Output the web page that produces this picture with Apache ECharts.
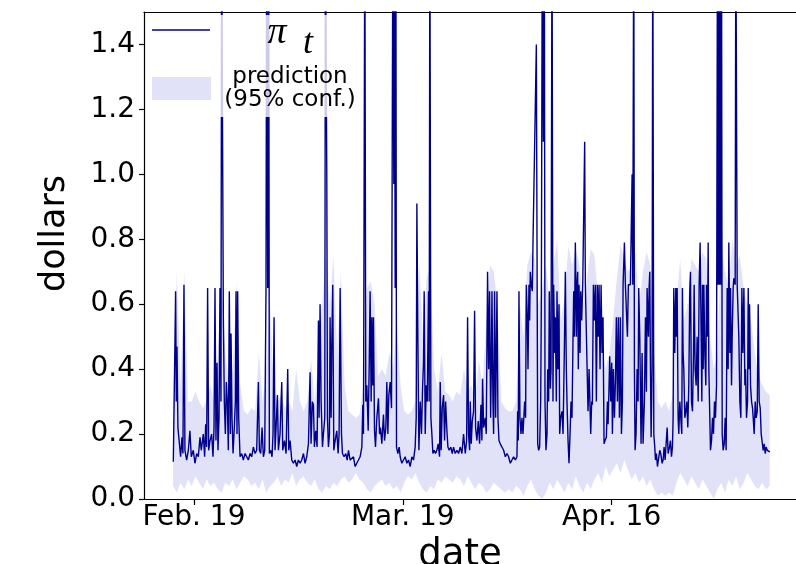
<!DOCTYPE html>
<html><head><meta charset="utf-8">
<script src="https://cdn.jsdelivr.net/npm/echarts@6/dist/echarts.min.js"></script>
<style>html,body{margin:0;padding:0;background:#fff;overflow:hidden}#c{width:796px;height:564px}</style>
</head><body><div id="c"></div>
<script>
// x values are days relative to Feb. 19
const tickLabels = ['Feb. 19', 'Mar. 19', 'Apr. 16'];
const tickDays = [0, 28, 56];
const yTicks = [0, 0.2, 0.4, 0.6, 0.8, 1.0, 1.2, 1.4];

// observed price pi_t : [day, dollars]
const piSeg1 = [[-2.77,0.115],[-2.60,0.12],[-2.46,0.64],[-2.37,0.30],[-2.28,0.47],[-2.15,0.22],[-1.97,0.22],[-1.79,0.13],[-1.61,0.19],[-1.48,0.14],[-1.34,0.66],[-1.21,0.15],[-0.98,0.12],[-0.76,0.15],[-0.54,0.21],[-0.36,0.13],[-0.09,0.15],[0.13,0.11],[0.36,0.14],[0.58,0.13],[0.81,0.19],[0.98,0.15],[1.25,0.20],[1.43,0.13],[1.57,0.23],[1.70,0.16],[1.83,0.65],[1.97,0.15],[2.15,0.18],[2.37,0.20],[2.55,0.13],[2.69,0.22],[2.82,0.65],[2.95,0.18],[3.09,0.42],[3.22,0.15],[3.36,0.25],[3.49,0.65],[3.62,0.30],[3.71,1.8],[3.94,0.56],[4.07,0.30],[4.21,0.20],[4.34,0.36],[4.47,0.30],[4.61,0.15],[4.74,0.64],[4.88,0.20],[4.97,0.51],[5.10,0.25],[5.24,0.14],[5.41,0.22],[5.55,0.30],[5.64,0.64],[5.77,0.20],[5.86,0.64],[6.00,0.25],[6.18,0.13],[6.40,0.14],[6.62,0.12],[6.85,0.14],[7.07,0.13],[7.29,0.12],[7.52,0.14],[7.74,0.13],[7.96,0.16],[8.19,0.14],[8.41,0.15],[8.64,0.36],[8.77,0.15],[8.95,0.14],[9.13,0.22],[9.31,0.13],[9.49,0.15],[9.66,0.65],[9.75,1.8],[9.89,0.65],[10.02,1.8],[10.11,0.14],[10.29,0.15],[10.47,0.13],[10.60,0.20],[10.74,0.56],[10.87,0.15],[11.01,0.22],[11.19,0.32],[11.32,0.15],[11.54,0.20],[11.77,0.36],[11.90,0.15],[12.13,0.18],[12.35,0.14],[12.57,0.40],[12.71,0.15],[12.89,0.18],[13.11,0.12],[13.33,0.11],[13.56,0.12],[13.78,0.10],[14.00,0.12],[14.23,0.11]];
const piSeg2 = [[14.45,0.12],[14.68,0.14],[14.90,0.11],[15.12,0.13],[15.35,0.17],[15.57,0.39],[15.70,0.17],[15.88,0.30],[16.02,0.29],[16.15,0.16],[16.33,0.21],[16.51,0.16],[16.69,0.55],[16.78,0.25],[16.91,0.60],[17.05,0.30],[17.23,0.16],[17.36,0.20],[17.54,0.25],[17.63,1.8],[17.81,1.0],[17.90,0.25],[18.03,0.16],[18.17,0.20],[18.25,0.56],[18.39,0.25],[18.48,0.48],[18.61,0.66],[18.75,0.15],[18.93,0.18],[19.15,0.21],[19.33,0.14],[19.46,0.20],[19.60,0.65],[19.78,0.20],[19.91,0.14],[20.13,0.13],[20.36,0.14],[20.54,0.12],[20.72,0.15],[20.94,0.12],[21.16,0.12],[21.39,0.13],[21.61,0.10],[21.83,0.11],[22.06,0.12],[22.28,0.13],[22.51,0.16],[22.64,0.29],[22.73,0.20],[22.91,1.8],[23.04,0.30],[23.18,0.35],[23.36,0.21],[23.49,0.40],[23.62,0.64],[23.76,0.30],[23.85,0.56],[23.98,0.35],[24.07,0.56],[24.21,0.21],[24.34,0.16],[24.52,0.25],[24.74,0.31],[24.88,0.20],[25.01,0.22],[25.19,0.17],[25.41,0.26],[25.55,0.18],[25.73,0.22],[25.86,0.36],[26.00,0.20],[26.13,0.32],[26.31,0.36],[26.49,0.28],[26.67,1.8],[26.80,0.97],[26.89,1.8],[26.98,0.65],[27.07,1.8],[27.16,0.16],[27.34,0.14],[27.52,0.16],[27.65,0.13],[27.87,0.11],[28.10,0.12],[28.32,0.13],[28.55,0.11],[28.77,0.12],[28.99,0.10],[29.22,0.13],[29.44,0.12],[29.66,0.16],[29.80,0.25],[29.89,0.91],[30.02,0.50],[30.16,0.15],[30.34,0.30],[30.51,0.20],[30.65,0.34],[30.78,0.42],[30.87,0.64],[31.01,0.20],[31.14,0.35],[31.28,0.30],[31.45,0.64],[31.54,0.30],[31.63,1.8],[31.77,0.25],[31.90,0.20],[32.04,0.14],[32.21,0.15],[32.39,0.14],[32.57,0.15],[32.75,0.17],[32.93,0.13],[33.02,0.36],[33.15,0.15],[33.29,0.28],[33.47,0.32],[33.60,0.18],[33.74,0.30],[33.92,0.21],[34.05,0.16],[34.23,0.15],[34.45,0.16],[34.63,0.14],[34.81,0.16],[35.03,0.14],[35.26,0.15],[35.48,0.14]];
const piSeg3 = [[35.71,0.16],[35.93,0.14],[36.15,0.20],[36.38,0.14],[36.56,0.18],[36.69,0.56],[36.82,0.20],[36.96,0.15],[37.05,0.30],[37.18,0.17],[37.32,0.24],[37.49,0.27],[37.63,0.58],[37.76,0.22],[37.94,0.18],[38.12,0.24],[38.30,0.17],[38.48,0.29],[38.61,0.18],[38.70,0.37],[38.84,0.22],[39.06,0.25],[39.19,0.20],[39.37,0.70],[39.51,0.40],[39.64,0.64],[39.78,0.25],[39.87,0.40],[39.96,0.64],[40.09,0.30],[40.18,0.20],[40.31,0.64],[40.45,0.25],[40.63,0.64],[40.76,0.25],[40.90,0.18],[41.07,0.17],[41.30,0.16],[41.52,0.15],[41.75,0.13],[41.97,0.14],[42.19,0.13],[42.42,0.11],[42.64,0.12],[42.86,0.13],[43.09,0.12],[43.31,0.13],[43.40,0.27],[43.49,0.18],[43.58,0.64],[43.71,0.25],[43.85,0.20],[43.98,0.25],[44.12,0.20],[44.34,0.30],[44.47,0.25],[44.56,0.66],[44.70,0.56],[44.79,0.40],[44.92,0.66],[45.01,0.55],[45.10,0.70],[45.23,0.66],[45.37,0.64],[45.46,0.79],[45.64,0.79],[45.73,0.79],[45.91,1.40],[46.00,1.40],[46.09,0.17],[46.22,0.15],[46.35,0.16],[46.49,0.30],[46.58,0.60],[46.71,1.8],[46.85,1.1],[46.98,1.8],[47.07,0.30],[47.20,0.15],[47.34,0.20],[47.43,0.40],[47.56,0.30],[47.65,0.64],[47.79,0.34],[47.88,0.40],[48.01,1.8],[48.14,0.30],[48.23,0.66],[48.37,0.45],[48.46,0.56],[48.59,0.30],[48.68,0.64],[48.81,0.40],[48.95,0.60],[49.04,0.20],[49.17,0.25],[49.35,0.27],[49.49,0.20],[49.66,0.45],[49.80,0.70],[49.93,0.40],[50.02,0.30],[50.16,0.18],[50.29,0.11],[50.43,0.20],[50.56,0.30],[50.69,0.25],[50.83,0.50],[50.92,0.64],[51.01,0.50],[51.14,0.79],[51.28,0.50],[51.36,0.66],[51.45,0.70],[51.54,0.40],[51.63,0.66],[51.77,0.45],[51.86,0.64],[51.99,0.55],[52.13,0.66],[52.30,0.66],[52.39,1.10],[52.48,0.66],[52.62,0.66],[52.71,0.66],[52.84,0.27],[52.98,0.40],[53.06,0.40],[53.20,0.20],[53.33,0.30],[53.42,0.29],[53.56,0.66],[53.69,0.55],[53.83,0.66],[53.96,0.30],[54.09,0.66],[54.23,0.50],[54.32,0.66],[54.45,0.40],[54.59,0.66],[54.72,0.45],[54.85,0.56],[54.99,0.17],[55.12,0.18],[55.30,0.19],[55.44,0.30],[55.53,0.23],[55.66,0.35],[55.75,0.44],[55.88,0.30],[56.02,0.42],[56.11,0.20],[56.24,0.40],[56.38,0.25],[56.51,0.36],[56.64,0.56],[56.78,0.30],[56.91,0.56],[57.05,0.25]];
const piSeg4 = [[57.18,0.56],[57.32,0.20],[57.45,0.30],[57.54,0.66],[57.72,0.79],[57.85,0.66],[57.99,0.66],[58.12,0.50],[58.25,0.66],[58.39,0.66],[58.52,0.66],[58.66,0.66],[58.75,1.00],[58.84,0.66],[58.97,1.8],[59.06,0.40],[59.15,0.15],[59.28,0.20],[59.42,0.40],[59.55,0.30],[59.64,0.65],[59.78,0.50],[59.95,0.17],[60.09,0.45],[60.22,0.17],[60.40,0.30],[60.54,0.56],[60.67,0.33],[60.76,0.65],[60.94,0.50],[61.03,0.65],[61.12,0.70],[61.21,0.40],[61.30,0.19],[61.43,0.40],[61.52,1.8],[61.66,0.20],[61.79,0.16],[61.88,0.12],[62.01,0.14],[62.15,0.10],[62.33,0.10],[62.46,0.15],[62.59,0.14],[62.77,0.11],[62.91,0.12],[63.04,0.16],[63.18,0.12],[63.31,0.17],[63.45,0.22],[63.58,0.14],[63.76,0.16],[63.89,0.18],[64.03,0.13],[64.16,0.16],[64.25,0.25],[64.34,0.65],[64.47,0.45],[64.61,0.65],[64.70,0.50],[64.79,0.65],[64.92,0.25],[65.01,0.20],[65.15,0.30],[65.28,0.25],[65.41,0.20],[65.50,0.65],[65.59,0.45],[65.68,0.40],[65.82,0.25],[65.95,0.27],[66.08,0.30],[66.22,0.22],[66.35,0.35],[66.49,0.65],[66.58,0.70],[66.71,0.30],[66.85,0.27],[66.98,0.45],[67.07,0.66],[67.20,0.40],[67.34,0.35],[67.47,0.50],[67.61,0.30],[67.74,0.66],[67.87,0.79],[68.01,0.50],[68.10,0.30],[68.19,0.66],[68.28,0.40],[68.37,0.66],[68.50,0.45],[68.64,0.35],[68.72,0.66],[68.86,0.50],[68.95,0.79],[69.04,0.40],[69.17,0.25],[69.26,0.15],[69.40,0.18],[69.53,0.25],[69.66,0.20],[69.80,0.30],[69.93,0.25],[70.07,0.35],[70.20,1.8],[70.29,0.66],[70.38,1.8],[70.47,0.66],[70.56,1.8],[70.65,0.66],[70.74,1.8],[70.83,0.20],[70.96,0.15],[71.10,0.17],[71.23,0.25],[71.36,0.15],[71.50,0.65],[71.63,0.40],[71.72,0.79],[71.86,0.45],[71.95,0.65],[72.08,0.35],[72.17,0.50],[72.30,0.65],[72.39,0.68],[72.48,0.68],[72.57,0.66],[72.66,1.8],[72.75,1.8],[72.84,0.66],[72.93,0.66],[73.06,0.50],[73.20,0.30],[73.33,0.25],[73.47,0.65],[73.60,0.45],[73.74,0.65],[73.87,0.35],[73.96,0.40],[74.09,0.25],[74.23,0.30],[74.32,0.65],[74.41,0.40],[74.50,0.60],[74.63,0.35],[74.77,0.30],[74.90,0.28],[74.99,0.25],[75.12,0.20],[75.26,0.30],[75.39,0.25],[75.53,0.27],[75.66,0.60],[75.79,0.30],[75.93,0.28],[76.06,0.20],[76.20,0.20],[76.33,0.15],[76.47,0.17],[76.60,0.14],[76.73,0.16],[76.87,0.15],[77.05,0.15],[77.23,0.145]];

// 95% prediction band, sampled every half day from day -2.8
const bandStart = -2.8;
const bandStep = 0.5;
const bandUpper = [0.28,0.70,0.35,0.70,0.30,0.30,0.33,0.30,0.28,0.30,0.35,0.30,0.45,0.67,0.45,0.35,0.40,0.67,0.35,0.27,0.26,0.28,0.27,0.45,0.30,0.40,0.60,0.35,0.30,0.32,0.28,0.30,0.27,0.40,0.30,
 0.27,0.30,0.43,0.30,0.45,0.60,0.75,0.60,0.75,0.45,0.70,0.35,0.27,0.26,0.25,0.26,0.35,0.65,0.67,0.60,0.38,0.40,0.38,0.45,0.40,0.55,0.35,0.27,0.26,0.27,0.30,0.73,0.50,0.68,0.72,0.40,0.33,0.45,0.33,0.32,0.30,0.33,
 0.32,0.40,0.33,0.35,0.30,0.43,0.35,0.55,0.72,0.70,0.60,0.30,0.28,0.27,0.27,0.30,0.60,0.50,0.72,0.76,0.74,0.60,0.65,0.72,0.60,0.72,0.80,0.55,0.62,0.78,0.72,0.77,0.72,0.60,0.68,0.77,0.75,0.62,0.48,0.40,0.45,0.55,0.68,0.78,
 0.74,0.70,0.72,0.76,0.60,0.70,0.76,0.72,0.45,0.30,0.28,0.30,0.27,0.32,0.60,0.74,0.55,0.60,0.74,0.72,0.70,0.76,0.74,0.50,0.40,0.45,0.79,0.70,0.65,0.80,0.72,0.75,0.65,0.60,0.55,0.45,0.38,0.35,0.33,0.32];
const bandLower = [0.04,0.02,0.05,0.03,0.06,0.04,0.07,0.05,0.03,0.06,0.04,0.05,0.03,0.02,0.05,0.04,0.06,0.03,0.05,0.07,0.06,0.04,0.05,0.03,0.06,0.02,0.04,0.05,0.07,0.04,0.06,0.05,0.08,0.04,0.06,
 0.07,0.05,0.04,0.06,0.03,0.02,0.04,0.03,0.05,0.04,0.06,0.07,0.05,0.06,0.08,0.06,0.05,0.03,0.02,0.04,0.05,0.06,0.04,0.05,0.03,0.04,0.02,0.05,0.07,0.06,0.08,0.05,0.03,0.02,0.04,0.03,0.06,0.05,0.07,0.06,0.05,0.07,
 0.06,0.04,0.07,0.05,0.03,0.05,0.04,0.02,0.03,0.05,0.04,0.03,0.02,0.03,0.02,0.04,0.03,0.01,0.04,0.06,0.03,0.01,0.00,0.02,0.05,0.03,0.06,0.04,0.02,0.05,0.03,0.07,0.04,0.02,0.05,0.03,0.06,0.08,0.05,0.10,0.07,0.09,0.11,0.08,
 0.12,0.09,0.06,0.08,0.05,0.07,0.04,0.06,0.03,0.01,0.02,0.01,0.02,0.01,0.05,0.08,0.06,0.04,0.07,0.05,0.03,0.06,0.04,0.02,0.00,0.03,0.05,0.02,0.06,0.04,0.07,0.03,0.05,0.08,0.06,0.04,0.03,0.05,0.03,0.04];

const legendLine = 'π';
const legendSub = 't';
const legendBand = ['prediction', '(95% conf.)'];

const piData = piSeg1.concat(piSeg2, piSeg3, piSeg4);
const bandRows = bandUpper.map((u, i) => [bandStart + i * bandStep, bandLower[i], u]);

const NAVY = '#00008b';
const BAND = '#e1e2f8';
const FONT = 'DejaVu Sans';
const X_MIN = -6.7, X_MAX = 81.8;

const chart = echarts.init(document.getElementById('c'));
chart.setOption({
  animation: false,
  backgroundColor: '#fff',
  grid: { left: 144, top: 12, width: 660, height: 487, outerBoundsMode: 'none', containLabel: false, show: false },
  xAxis: [{
    type: 'value', min: X_MIN, max: X_MAX,
    splitLine: { show: false },
    axisLine: { onZero: false, lineStyle: { color: '#000', width: 1.2 } },
    axisTick: { customValues: tickDays, length: 6, lineStyle: { color: '#000', width: 1.2 } },
    axisLabel: { customValues: tickDays, formatter: v => tickLabels[tickDays.indexOf(v)], fontFamily: FONT, fontSize: 28, color: '#000', margin: 5 },
    name: 'date', nameLocation: 'middle', nameGap: 28,
    nameTextStyle: { fontFamily: FONT, fontSize: 37, color: '#000', padding: [0, 28, 0, 0] }
  }, {
    type: 'value', position: 'top', min: X_MIN, max: X_MAX,
    splitLine: { show: false }, axisTick: { show: false }, axisLabel: { show: false },
    axisLine: { show: true, onZero: false, lineStyle: { color: '#000', width: 1.2 } }
  }],
  yAxis: {
    type: 'value', min: 0, max: 1.5,
    splitLine: { show: false },
    axisLine: { show: true, onZero: false, lineStyle: { color: '#000', width: 1.2 } },
    axisTick: { show: true, customValues: yTicks, length: 5, lineStyle: { color: '#000', width: 1.2 } },
    axisLabel: { customValues: yTicks, formatter: v => v.toFixed(1), fontFamily: FONT, fontSize: 28, color: '#000', margin: 9 },
    name: 'dollars', nameLocation: 'middle', nameGap: 72, nameRotate: 90,
    nameTextStyle: { fontFamily: FONT, fontSize: 35, color: '#000', padding: [0, 0, 0, 44] }
  },
  graphic: [
    { type: 'rect', z: 3, silent: true, shape: { x: 146, y: 15, width: 216, height: 102 }, style: { fill: 'rgba(255,255,255,0.8)' } },
    { type: 'line', z: 4, silent: true, shape: { x1: 152, y1: 30, x2: 210, y2: 30 }, style: { stroke: NAVY, lineWidth: 1.4 } },
    { type: 'rect', z: 4, silent: true, shape: { x: 152, y: 77, width: 59, height: 23 }, style: { fill: BAND } },
    { type: 'text', z: 4, silent: true, x: 277, y: 33, style: { text: legendLine, font: 'italic 38px "Liberation Serif"', fill: '#000', align: 'center', verticalAlign: 'middle' } },
    { type: 'text', z: 4, silent: true, x: 308, y: 44, style: { text: legendSub, font: 'italic 36px "Liberation Serif"', fill: '#000', align: 'center', verticalAlign: 'middle' } },
    { type: 'text', z: 4, silent: true, x: 290, y: 77, style: { text: legendBand[0], font: '23px "DejaVu Sans"', fill: '#000', align: 'center', verticalAlign: 'middle' } },
    { type: 'text', z: 4, silent: true, x: 290, y: 100, style: { text: legendBand[1], font: '23px "DejaVu Sans"', fill: '#000', align: 'center', verticalAlign: 'middle' } }
  ],
  series: [
    { name: 'prediction (95% conf.)', type: 'custom', data: bandRows, encode: { x: 0, y: [1, 2] }, clip: true, silent: true, z: 1,
      renderItem: (params, api) => {
        if (params.dataIndex !== 0) return null;
        const top = bandRows.map(r => api.coord([r[0], r[2]]));
        const bot = bandRows.map(r => api.coord([r[0], r[1]])).reverse();
        return { type: 'polygon', shape: { points: top.concat(bot) }, style: { fill: BAND } };
      } },
    { name: 'pi_t', type: 'line', data: piData, symbol: 'none', silent: true,
      lineStyle: { color: NAVY, width: 1.4 }, itemStyle: { color: NAVY }, z: 2 }
  ]
});
</script></body></html>
